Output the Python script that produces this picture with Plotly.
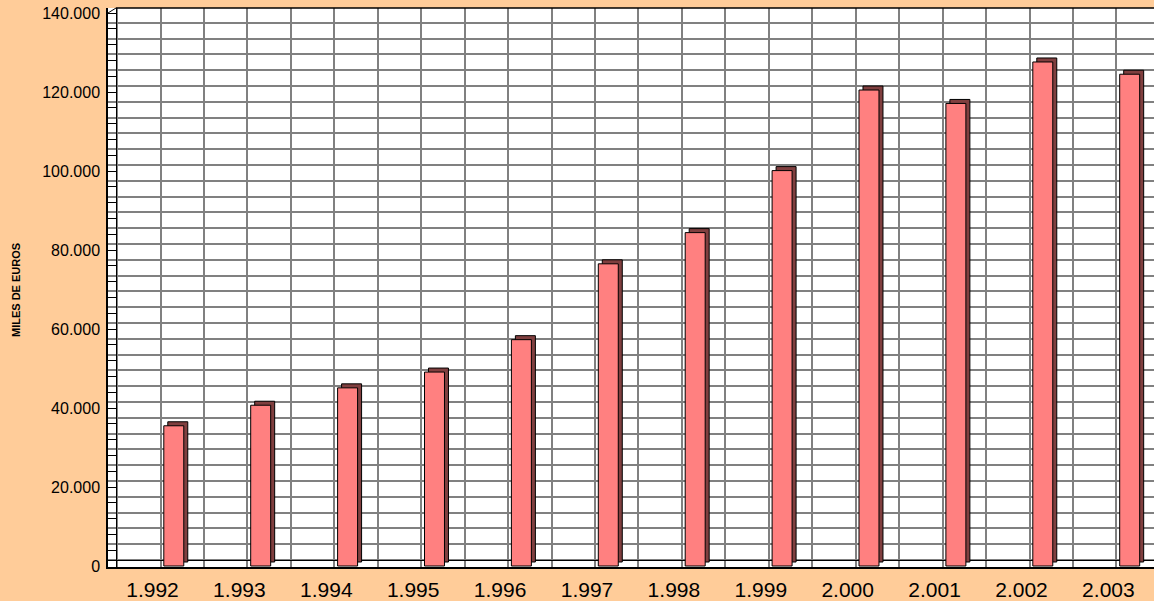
import plotly.graph_objects as go

# ---- data ----
years = [1992, 1993, 1994, 1995, 1996, 1997, 1998, 1999, 2000, 2001, 2002, 2003]
year_labels = ["1.992", "1.993", "1.994", "1.995", "1.996", "1.997", "1.998", "1.999",
               "2.000", "2.001", "2.002", "2.003"]
values = [35500, 40700, 45100, 49100, 57300, 76500, 84400, 100100, 120500, 117100, 127600, 124500]
y_tick_vals = [0, 20000, 40000, 60000, 80000, 100000, 120000, 140000]
y_tick_text = ["0", "20.000", "40.000", "60.000", "80.000", "100.000", "120.000", "140.000"]
y_title = "MILES DE EUROS"

# ---- geometry (pixels) ----
W, H = 1154, 601
L, R, T, B = 108, 0, 8, 34
plot_w = W - L - R
plot_h = H - T - B
x_px = 86.9                    # pixels per year
x_min = 1992 - (152.5 - L) / x_px
x_max = x_min + plot_w / x_px
y_k = 553 / 140000             # pixels per unit
y_min = -1 / y_k
y_max = 140000 + 5 / y_k
dx = 8 / x_px                  # back-wall depth offset (x)
dy_grid = 6 / y_k              # back-wall depth offset (y)
dy_bar = 4 / y_k               # bar extrusion offset (y)

bar_off = 0.13
bar_w = 0.23

fig = go.Figure()

# extrusion (side/top faces)
fig.add_trace(go.Bar(
    x=years, y=values, base=[dy_bar] * len(values),
    offset=bar_off + 0.046, width=bar_w,
    marker=dict(color="#803f3f", line=dict(color="black", width=1)),
    hoverinfo="skip", showlegend=False,
))
# front faces
fig.add_trace(go.Bar(
    x=years, y=values,
    offset=bar_off, width=bar_w,
    marker=dict(color="#ff8080", line=dict(color="black", width=1)),
    showlegend=False,
))

grid_col = "#808080"
fig.update_layout(
    width=W, height=H,
    margin=dict(l=L, r=R, t=T, b=B, pad=0),
    paper_bgcolor="#ffcc99",
    plot_bgcolor="white",
    barmode="overlay",
    font=dict(family="Liberation Sans, Arial, sans-serif", color="black"),
    xaxis=dict(
        range=[x_min, x_max], tickvals=years, ticktext=year_labels,
        showgrid=False, zeroline=False, showline=True, linecolor="black", linewidth=1.5,
        ticks="", ticklabelstandoff=3, tickfont=dict(size=21),
    ),
    yaxis=dict(
        range=[y_min, y_max], tickvals=y_tick_vals, ticktext=y_tick_text,
        showgrid=False, zeroline=False, showline=True, linecolor="black", linewidth=1.5,
        ticks="inside", ticklen=8, tickcolor="black", tickwidth=1,
        minor=dict(dtick=4000, tick0=0, ticks="inside", ticklen=8, tickcolor="black", showgrid=False),
        tickfont=dict(size=16), ticklabelstandoff=3,
    ),
    xaxis2=dict(
        overlaying="x", range=[x_min - dx, x_max - dx], dtick=0.5, tick0=1992,
        showgrid=True, gridcolor=grid_col, gridwidth=2.2, showticklabels=False,
        zeroline=False, ticks="", anchor="free", position=7 / plot_h,
        showline=True, linecolor="black", linewidth=1.2, layer="below traces",
    ),
    yaxis2=dict(
        overlaying="y", range=[y_min - dy_grid, y_max - dy_grid], dtick=4000, tick0=0,
        showgrid=True, gridcolor=grid_col, gridwidth=2.2, showticklabels=False,
        zeroline=False, ticks="", anchor="free", position=8 / plot_w,
        showline=True, linecolor="black", linewidth=1.2, layer="below traces",
    ),
    annotations=[dict(
        text="<b>" + y_title + "</b>", textangle=-90,
        xref="paper", yref="paper", x=(16 - L) / plot_w, y=(567 - 290) / plot_h,
        xanchor="center", yanchor="middle", showarrow=False,
        font=dict(size=11, color="black"),
    )],
    shapes=[
        dict(type="line", xref="paper", yref="paper", x0=8 / plot_w, x1=1, y0=1, y1=1,
             line=dict(color="black", width=1.5)),
        dict(type="line", xref="paper", yref="paper", x0=0, x1=8 / plot_w,
             y0=1 - 5 / plot_h, y1=1, line=dict(color="black", width=1)),
    ],
)
# invisible trace so the overlaid (back-wall) axes render
fig.add_trace(go.Scatter(x=[years[0]], y=[values[0]], xaxis="x2", yaxis="y2",
                         mode="markers", marker=dict(opacity=0), hoverinfo="skip",
                         showlegend=False))

fig.write_html(
    "out.html",
    config={"displayModeBar": False},
    post_script="document.body.style.margin='0';document.body.style.padding='0';"
                "document.body.style.overflow='hidden';document.body.style.background='#ffcc99';",
)
